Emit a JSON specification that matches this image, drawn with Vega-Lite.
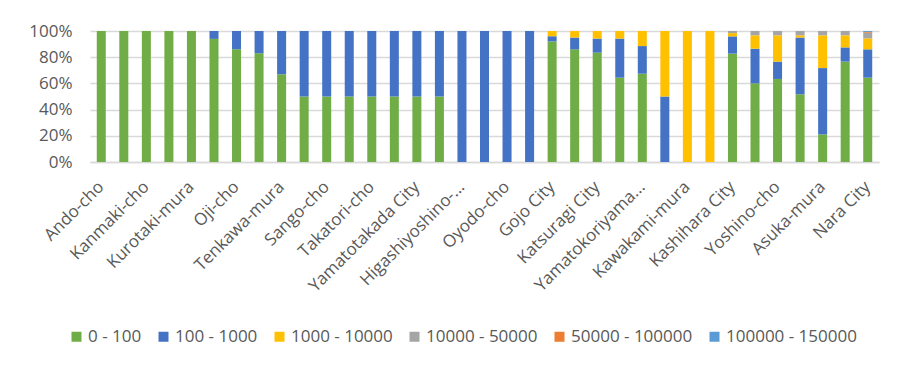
{
  "$schema": "https://vega.github.io/schema/vega-lite/v6.json",
  "autosize": {"type": "none"},
  "width": 789,
  "height": 131,
  "padding": {"left": 90, "top": 31, "right": 21, "bottom": 206},
  "background": "white",
  "config": {
    "view": {"stroke": null},
    "font": "Open Sans",
    "axis": {"labelFont": "Open Sans", "labelColor": "#595959", "labelFontSize": 17},
    "legend": {"labelFont": "Open Sans", "labelColor": "#595959", "labelFontSize": 17}
  },
  "datasets": {
    "shares": [
      {"municipality": "Ando-cho", "range": "0 - 100", "share": 100},
      {"municipality": "Heguri-cho", "range": "0 - 100", "share": 100},
      {"municipality": "Kanmaki-cho", "range": "0 - 100", "share": 100},
      {"municipality": "Kawai-cho", "range": "0 - 100", "share": 100},
      {"municipality": "Kurotaki-mura", "range": "0 - 100", "share": 100},
      {"municipality": "Miyake-cho", "range": "0 - 100", "share": 94},
      {"municipality": "Miyake-cho", "range": "100 - 1000", "share": 6},
      {"municipality": "Oji-cho", "range": "0 - 100", "share": 86},
      {"municipality": "Oji-cho", "range": "100 - 1000", "share": 14},
      {"municipality": "Ikaruga-cho", "range": "0 - 100", "share": 83},
      {"municipality": "Ikaruga-cho", "range": "100 - 1000", "share": 17},
      {"municipality": "Tenkawa-mura", "range": "0 - 100", "share": 67},
      {"municipality": "Tenkawa-mura", "range": "100 - 1000", "share": 33},
      {"municipality": "Kawanishi-cho", "range": "0 - 100", "share": 50},
      {"municipality": "Kawanishi-cho", "range": "100 - 1000", "share": 50},
      {"municipality": "Sango-cho", "range": "0 - 100", "share": 50},
      {"municipality": "Sango-cho", "range": "100 - 1000", "share": 50},
      {"municipality": "Tawaramoto-cho", "range": "0 - 100", "share": 50},
      {"municipality": "Tawaramoto-cho", "range": "100 - 1000", "share": 50},
      {"municipality": "Takatori-cho", "range": "0 - 100", "share": 50},
      {"municipality": "Takatori-cho", "range": "100 - 1000", "share": 50},
      {"municipality": "Koryo-cho", "range": "0 - 100", "share": 50},
      {"municipality": "Koryo-cho", "range": "100 - 1000", "share": 50},
      {"municipality": "Yamatotakada City", "range": "0 - 100", "share": 50},
      {"municipality": "Yamatotakada City", "range": "100 - 1000", "share": 50},
      {"municipality": "Shimoichi-cho", "range": "0 - 100", "share": 50},
      {"municipality": "Shimoichi-cho", "range": "100 - 1000", "share": 50},
      {"municipality": "Higashiyoshino-mura", "range": "100 - 1000", "share": 100},
      {"municipality": "Nosegawa-mura", "range": "100 - 1000", "share": 100},
      {"municipality": "Oyodo-cho", "range": "100 - 1000", "share": 100},
      {"municipality": "Kamikitayama-mura", "range": "100 - 1000", "share": 100},
      {"municipality": "Gojo City", "range": "0 - 100", "share": 92},
      {"municipality": "Gojo City", "range": "100 - 1000", "share": 4},
      {"municipality": "Gojo City", "range": "1000 - 10000", "share": 4},
      {"municipality": "Gose City", "range": "0 - 100", "share": 86},
      {"municipality": "Gose City", "range": "100 - 1000", "share": 9},
      {"municipality": "Gose City", "range": "1000 - 10000", "share": 5},
      {"municipality": "Katsuragi City", "range": "0 - 100", "share": 83.5},
      {"municipality": "Katsuragi City", "range": "100 - 1000", "share": 10.7},
      {"municipality": "Katsuragi City", "range": "1000 - 10000", "share": 5.8},
      {"municipality": "Uda City", "range": "0 - 100", "share": 64.4},
      {"municipality": "Uda City", "range": "100 - 1000", "share": 29.8},
      {"municipality": "Uda City", "range": "1000 - 10000", "share": 5.8},
      {"municipality": "Yamatokoriyama City", "range": "0 - 100", "share": 67.4},
      {"municipality": "Yamatokoriyama City", "range": "100 - 1000", "share": 21.1},
      {"municipality": "Yamatokoriyama City", "range": "1000 - 10000", "share": 11.5},
      {"municipality": "Shimokitayama-mura", "range": "100 - 1000", "share": 50},
      {"municipality": "Shimokitayama-mura", "range": "1000 - 10000", "share": 50},
      {"municipality": "Kawakami-mura", "range": "1000 - 10000", "share": 100},
      {"municipality": "Totsukawa-mura", "range": "1000 - 10000", "share": 100},
      {"municipality": "Kashihara City", "range": "0 - 100", "share": 82.7},
      {"municipality": "Kashihara City", "range": "100 - 1000", "share": 13.2},
      {"municipality": "Kashihara City", "range": "1000 - 10000", "share": 2.5},
      {"municipality": "Kashihara City", "range": "10000 - 50000", "share": 1.6},
      {"municipality": "Sakurai City", "range": "0 - 100", "share": 60},
      {"municipality": "Sakurai City", "range": "100 - 1000", "share": 26.5},
      {"municipality": "Sakurai City", "range": "1000 - 10000", "share": 10.2},
      {"municipality": "Sakurai City", "range": "10000 - 50000", "share": 3.3},
      {"municipality": "Yoshino-cho", "range": "0 - 100", "share": 63.4},
      {"municipality": "Yoshino-cho", "range": "100 - 1000", "share": 13.2},
      {"municipality": "Yoshino-cho", "range": "1000 - 10000", "share": 20.1},
      {"municipality": "Yoshino-cho", "range": "10000 - 50000", "share": 3.3},
      {"municipality": "Soni-mura", "range": "0 - 100", "share": 51.7},
      {"municipality": "Soni-mura", "range": "100 - 1000", "share": 43.3},
      {"municipality": "Soni-mura", "range": "1000 - 10000", "share": 1.7},
      {"municipality": "Soni-mura", "range": "10000 - 50000", "share": 3.3},
      {"municipality": "Asuka-mura", "range": "0 - 100", "share": 21.1},
      {"municipality": "Asuka-mura", "range": "100 - 1000", "share": 50.6},
      {"municipality": "Asuka-mura", "range": "1000 - 10000", "share": 25},
      {"municipality": "Asuka-mura", "range": "10000 - 50000", "share": 3.3},
      {"municipality": "Tenri City", "range": "0 - 100", "share": 76.6},
      {"municipality": "Tenri City", "range": "100 - 1000", "share": 10.9},
      {"municipality": "Tenri City", "range": "1000 - 10000", "share": 9.2},
      {"municipality": "Tenri City", "range": "10000 - 50000", "share": 3.3},
      {"municipality": "Nara City", "range": "0 - 100", "share": 64.4},
      {"municipality": "Nara City", "range": "100 - 1000", "share": 21.6},
      {"municipality": "Nara City", "range": "1000 - 10000", "share": 8.4},
      {"municipality": "Nara City", "range": "10000 - 50000", "share": 4.3},
      {"municipality": "Nara City", "range": "50000 - 100000", "share": 0.6},
      {"municipality": "Nara City", "range": "100000 - 150000", "share": 0.7}
    ]
  },
  "data": {"name": "shares"},
  "transform": [
    {"calculate": "indexof(['0 - 100','100 - 1000','1000 - 10000','10000 - 50000','50000 - 100000','100000 - 150000'], datum.range)", "as": "range_order"}
  ],
  "mark": {"type": "bar"},
  "encoding": {
    "x": {
      "field": "municipality",
      "type": "nominal",
      "sort": null,
      "scale": {"paddingInner": 0.6, "paddingOuter": 0.3},
      "axis": {
        "title": null,
        "values": ["Ando-cho", "Kanmaki-cho", "Kurotaki-mura", "Oji-cho", "Tenkawa-mura", "Sango-cho", "Takatori-cho", "Yamatotakada City", "Higashiyoshino-mura", "Oyodo-cho", "Gojo City", "Katsuragi City", "Yamatokoriyama City", "Kawakami-mura", "Kashihara City", "Yoshino-cho", "Asuka-mura", "Nara City"],
        "labelExpr": "length(datum.label) > 17 ? trim(substring(datum.label, 0, 15)) + '...' : datum.label",
        "labelAngle": -45,
        "labelAlign": "right",
        "labelBaseline": "middle",
        "labelPadding": 22,
        "labelLimit": 300,
        "ticks": false,
        "domainColor": "#d9d9d9",
        "domainWidth": 1.3,
        "grid": false
      }
    },
    "y": {
      "field": "share",
      "type": "quantitative",
      "stack": "normalize",
      "scale": {"domain": [0, 1]},
      "axis": {
        "title": null,
        "format": ".0%",
        "values": [0, 0.2, 0.4, 0.6, 0.8, 1],
        "domain": false,
        "ticks": false,
        "labelPadding": 18,
        "gridColor": "#d9d9d9",
        "gridWidth": 1.3
      }
    },
    "color": {
      "field": "range",
      "type": "nominal",
      "sort": ["0 - 100", "100 - 1000", "1000 - 10000", "10000 - 50000", "50000 - 100000", "100000 - 150000"],
      "scale": {
        "domain": ["0 - 100", "100 - 1000", "1000 - 10000", "10000 - 50000", "50000 - 100000", "100000 - 150000"],
        "range": ["#70ad47", "#4472c4", "#ffc000", "#a5a5a5", "#ed7d31", "#5b9bd5"]
      },
      "legend": {
        "title": null,
        "orient": "none",
        "direction": "horizontal",
        "legendX": -22,
        "legendY": 297,
        "symbolType": "square",
        "symbolSize": 100,
        "symbolStrokeWidth": 0,
        "labelOffset": 3,
        "columnPadding": 13
      }
    },
    "order": {"field": "range_order", "type": "quantitative", "sort": "ascending"}
  }
}
